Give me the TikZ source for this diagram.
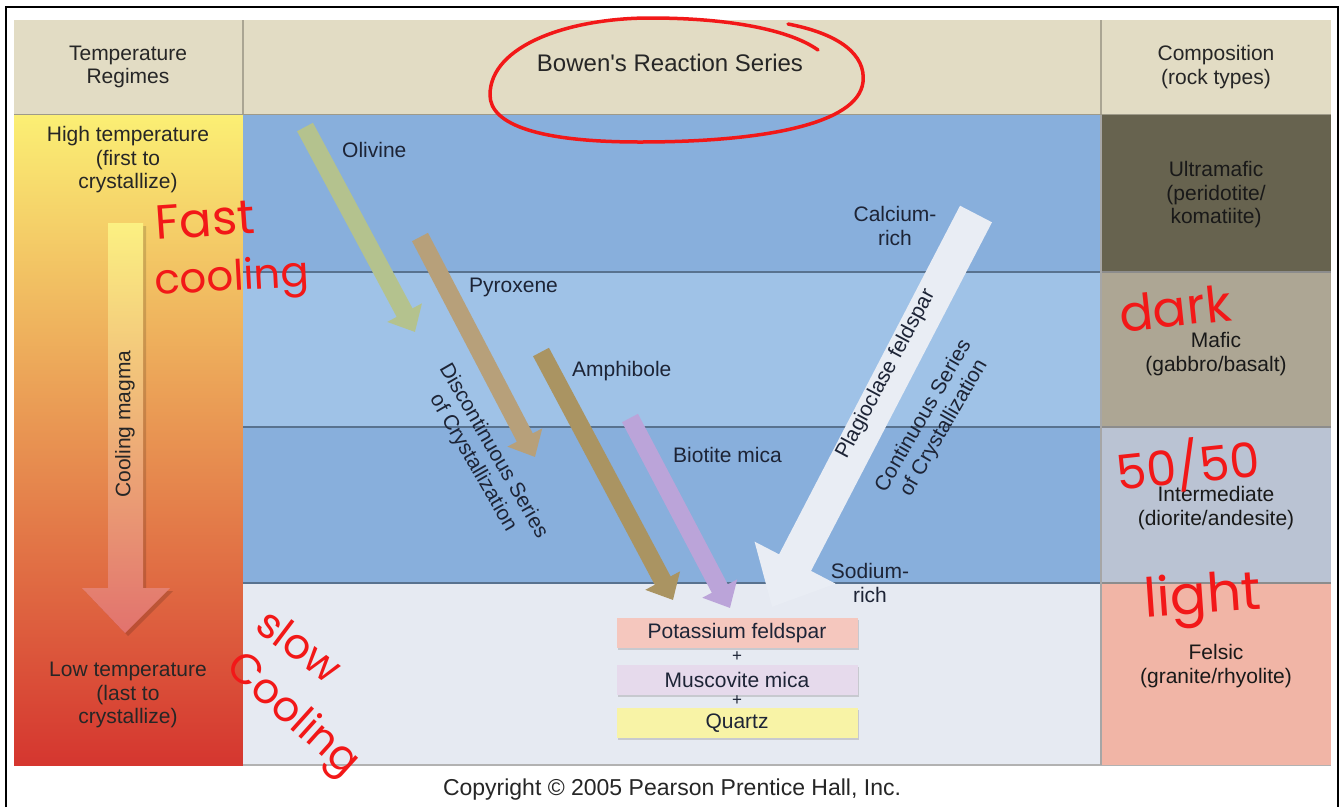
\documentclass[tikz,border=0pt]{standalone}
\usepackage{fontspec}
\setmainfont{Liberation Sans}
\newfontfamily\handfont{Poppins}
\usetikzlibrary{arrows.meta,positioning,shadows}

\definecolor{header}{HTML}{E2DCC4}
\definecolor{hotyellow}{HTML}{FBEF74}
\definecolor{midorange}{HTML}{EBA04D}
\definecolor{coldred}{HTML}{D5362F}
\definecolor{bandA}{HTML}{88AFDC}
\definecolor{bandB}{HTML}{9FC2E7}
\definecolor{bandlow}{HTML}{E6EAF2}
\definecolor{ultramafic}{HTML}{67634F}
\definecolor{mafic}{HTML}{ADA694}
\definecolor{intermediate}{HTML}{BAC3D3}
\definecolor{felsic}{HTML}{F1B5A6}
\definecolor{olivine}{HTML}{B4C28E}
\definecolor{pyroxene}{HTML}{B7A07A}
\definecolor{amphibole}{HTML}{AA9462}
\definecolor{biotite}{HTML}{BBA4D9}
\definecolor{plagio}{HTML}{E9EDF4}
\definecolor{kspar}{HTML}{F5C7BE}
\definecolor{muscovite}{HTML}{E6DAEC}
\definecolor{quartz}{HTML}{F8F3A6}
\definecolor{ink}{HTML}{1D2436}
\definecolor{redpen}{HTML}{F21818}

\newcommand{\lblfont}{\fontsize{21}{23.5}\selectfont}
\newcommand{\penfont}[1]{\handfont\fontsize{#1}{#1}\selectfont}

\begin{document}
\begin{tikzpicture}[x=1pt, y=-1pt,
  lbl/.style={font=\lblfont, align=center, text=ink, inner sep=0pt},
  mineral/.style={line width=18pt, -{Triangle[length=22pt, width=38pt]}},
  mineralbox/.style={font=\lblfont, text=ink, minimum width=241pt, minimum height=30pt,
    inner sep=0pt, drop shadow={shadow xshift=1.5pt, shadow yshift=-2pt, opacity=0.3}},
  scribble/.style={text=redpen, font=\penfont{42}, inner sep=0pt},
  redline/.style={draw=redpen, line width=3.5pt, line cap=round}
]

\useasboundingbox (0,0) rectangle (1343,807);
\fill[white] (0,0) rectangle (1343,807);

% frame of the screenshot
\draw[line width=2pt] (6,807) -- (6,7) -- (1338,7) -- (1338,807);

% header row
\fill[header] (14,20) rectangle (1331,115);
\draw[header!75!black, line width=1.2pt] (243,20) -- (243,115) (1101,20) -- (1101,115);
\draw[header!70!black, line width=1.5pt] (14,115) -- (1331,115);

% temperature column
\shade[top color=hotyellow, middle color=midorange, bottom color=coldred] (14,115) rectangle (243,765);

% crystallization bands
\fill[bandA] (243,115) rectangle (1101,272);
\fill[bandB] (243,272) rectangle (1101,427);
\fill[bandA] (243,427) rectangle (1101,583);
\fill[bandlow] (243,583) rectangle (1101,765);
\foreach \y in {272,427,583}
  \draw[bandA!65!black, line width=1.5pt] (243,\y) -- (1101,\y);
\draw[black!30, line width=1.5pt] (243,765) -- (1331,765);

% composition column
\fill[ultramafic] (1101,115) rectangle (1331,272);
\fill[mafic] (1101,272) rectangle (1331,427);
\fill[intermediate] (1101,427) rectangle (1331,583);
\fill[felsic] (1101,583) rectangle (1331,765);
\foreach \y in {272,427,583}
  \draw[black!45, line width=1.2pt] (1101,\y) -- (1331,\y);
\draw[black!35, line width=1.2pt] (1101,115) -- (1101,765);

% cooling magma arrow
\fill[black, opacity=0.15, xshift=3pt, yshift=-3pt]
  (108,223) -- (143,223) -- (143,588) -- (170,588) -- (125,633) -- (82,588) -- (108,588) -- cycle;
\shade[top color=hotyellow!90!white, middle color=midorange!75!hotyellow, bottom color=coldred!70!white]
  (108,223) -- (143,223) -- (143,588) -- (170,588) -- (125,633) -- (82,588) -- (108,588) -- cycle;
\node[lbl, text=black!85, rotate=90] (magma) at (125,424) {Cooling magma};

% headers
\node[lbl, text=black!85] (temphead) at (128,67) {Temperature\\Regimes};
\node[text=black!85, font=\fontsize{24}{28}\selectfont, inner sep=0pt] (title) at (670,63)
  {Bowen\textquotesingle s Reaction Series};
\node[lbl, text=black!85] (comphead) at (1216,67) {Composition\\(rock types)};

% temperature regimes
\node[lbl, text=black!85] (hightemp) at (128,160) {High temperature\\(first to\\crystallize)};
\node[lbl, text=black!85] (lowtemp) at (128,695) {Low temperature\\(last to\\crystallize)};

% mineral arrows
\coordinate (ol-top) at (305,127);   \coordinate (ol-end) at (415,332);
\coordinate (px-top) at (420,237);   \coordinate (px-end) at (535,457);
\coordinate (am-top) at (541,352);   \coordinate (am-end) at (673,600);
\coordinate (bt-top) at (630,418);   \coordinate (bt-end) at (730,608);
\coordinate (pl-top) at (976,214);   \coordinate (pl-end) at (772,607);

\draw[mineral, draw=olivine] (ol-top) -- (ol-end);
\draw[mineral, draw=pyroxene] (px-top) -- (px-end);
\draw[mineral, draw=amphibole] (am-top) -- (am-end);
\draw[mineral, draw=biotite] (bt-top) -- (bt-end);
\draw[line width=36pt, draw=plagio, -{Triangle[length=50pt, width=88pt]}] (pl-top) -- (pl-end);

\node[lbl, anchor=west] (olivine) at (342,150) {Olivine};
\node[lbl, anchor=west] (pyroxene) at (469,287) {Pyroxene};
\node[lbl, anchor=west] (amphibole) at (572,371) {Amphibole};
\node[lbl, anchor=west] (biotite) at (673,455) {Biotite mica};
\node[lbl] (calcium) at (895,226) {Calcium-\\rich};
\node[lbl] (sodium) at (870,583) {Sodium-\\rich};

\node[lbl, rotate=-60] (discont) at (483,457) {Discontinuous Series\\of Crystallization};
\node[lbl, rotate=62] (plagio) at (886,374) {Plagioclase feldspar};
\node[lbl, rotate=60] (cont) at (934,422) {Continuous Series\\of Crystallization};

% end products
\node[mineralbox, fill=kspar] (kspar) at (737,633) {Potassium feldspar};
\node[mineralbox, fill=muscovite] (musc) at (737,680) {Muscovite mica};
\node[mineralbox, fill=quartz] (quartz) at (737,723) {Quartz};
\node[font=\fontsize{17}{17}\selectfont, text=ink, inner sep=0pt] (plus1) at (737,657) {+};
\node[font=\fontsize{17}{17}\selectfont, text=ink, inner sep=0pt] (plus2) at (737,701) {+};

% rock types
\node[lbl, text=black!90] (ultra) at (1216,195) {Ultramafic\\(peridotite/\\komatiite)};
\node[lbl, text=black!90] (maficlbl) at (1216,354) {Mafic\\(gabbro/basalt)};
\node[lbl, text=black!90] (inter) at (1216,508) {Intermediate\\(diorite/andesite)};
\node[lbl, text=black!90] (felsiclbl) at (1216,666) {Felsic\\(granite/rhyolite)};

\node[text=black!85, font=\fontsize{23}{26}\selectfont, inner sep=0pt] (copy) at (672,790)
  {Copyright © 2005 Pearson Prentice Hall, Inc.};

% handwritten notes
\draw[redline] (788,24) .. controls (840,34) and (866,55) .. (863,82)
  .. controls (858,125) and (760,142) .. (640,142)
  .. controls (540,142) and (490,125) .. (490,95)
  .. controls (490,45) and (570,18) .. (650,18)
  .. controls (730,18) and (790,30) .. (818,50);
\node[scribble, font=\penfont{48}, rotate=4] (fast) at (205,220) {Fast};
\node[scribble, rotate=3] (fastcool) at (232,280) {cooling};
\node[scribble, rotate=-37] (slow) at (300,645) {slow};
\node[scribble, rotate=-42] (slowcool) at (292,716) {Cooling};
\node[scribble, font=\penfont{50}, rotate=6] (dark) at (1175,308) {dark};
\node[scribble, font=\penfont{48}, rotate=6] (half) at (1188,465) {50/50};
\node[scribble, font=\penfont{54}, rotate=4] (light) at (1203,600) {light};

\end{tikzpicture}
\end{document}
